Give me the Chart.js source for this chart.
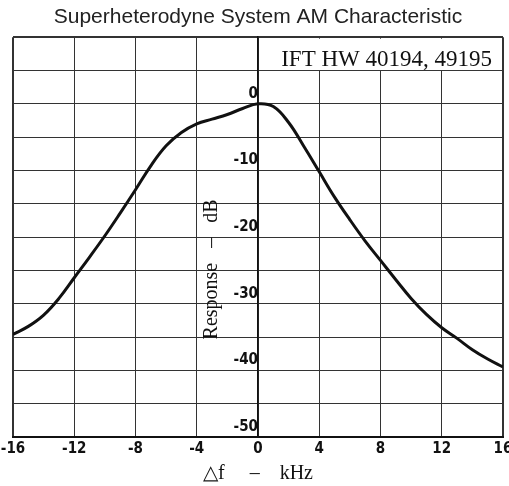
<!DOCTYPE html>
<html>
<head>
<meta charset="utf-8">
<script src="https://cdn.jsdelivr.net/npm/chart.js@4/dist/chart.umd.min.js"></script>
<style>
  html, body { margin: 0; padding: 0; background: #fff; }
  #wrap { width: 509px; height: 486px; }
</style>
</head>
<body>
<div id="wrap"><canvas id="amChart"></canvas></div>
<script>
const chartTitle = 'Superheterodyne System AM Characteristic';
const partNote = 'IFT HW 40194, 49195';

// detuning in kHz and relative response in dB
const kHz = [-16, -15, -14, -13, -12, -11, -10, -9, -8, -7, -6, -5, -4, -3, -2, -1, 0,
             1, 2, 3, 4, 5, 6, 7, 8, 9, 10, 11, 12, 13, 14, 15, 16];
const responseDb = [-34.6, -33.4, -31.7, -29.2, -26.1, -23.0, -19.8, -16.4, -12.9, -9.3, -6.3, -4.3, -3.0, -2.3, -1.6, -0.7, 0,
                    -0.4, -2.8, -6.4, -10.2, -14.0, -17.4, -20.6, -23.5, -26.4, -29.2, -31.6, -33.6, -35.2, -36.9, -38.3, -39.5];

// only these dB lines carry a number
const dbLabels = [0, -10, -20, -30, -40, -50];

const tickFont = { family: "'Liberation Sans Narrow', 'DejaVu Sans Condensed', 'Arial Narrow', sans-serif", size: 15, weight: 'bold', lineHeight: 1 };
const serif = "'Liberation Serif', 'Times New Roman', serif";

const edgeOrGrid = (edges) => (ctx) => edges.includes(ctx.tick.value) ? 2 : 1;

// white label box in the top right cell, plus the rotated dB caption
const notes = {
    id: 'notes',
    beforeDatasetsDraw(chart) {
        const { ctx, scales: { x, y } } = chart;
        const l = x.getPixelForValue(0), r = x.getPixelForValue(16);
        const t = y.getPixelForValue(10), b = y.getPixelForValue(5);
        ctx.save();
        ctx.fillStyle = '#fff';
        ctx.fillRect(l + 1, t + 1.5, r - l - 2.5, b - t - 2);
        ctx.fillStyle = '#111';
        ctx.font = '23px ' + serif;
        ctx.textAlign = 'right';
        ctx.textBaseline = 'alphabetic';
        ctx.fillText(partNote, r - 11, b - 4.5);
        ctx.restore();
    },
    afterDraw(chart) {
        const { ctx, scales: { x, y } } = chart;
        ctx.save();
        ctx.translate(x.getPixelForValue(0) - 46, y.getPixelForValue(-25) - 1);
        ctx.rotate(-Math.PI / 2);
        ctx.fillStyle = '#111';
        ctx.font = '20px ' + serif;
        ctx.textAlign = 'center';
        ctx.textBaseline = 'middle';
        ctx.fillText('Response   \u2013   dB', 0, 0);
        ctx.restore();
    }
};

new Chart(document.getElementById('amChart'), {
    type: 'line',
    data: {
        datasets: [{
            data: kHz.map((f, i) => ({ x: f, y: responseDb[i] })),
            borderColor: '#111',
            borderWidth: 3,
            pointRadius: 0,
            fill: false,
            tension: 0.4
        }]
    },
    options: {
        responsive: true,
        maintainAspectRatio: false,
        animation: false,
        layout: { padding: { left: 13, right: 6, top: 0, bottom: 0 } },
        plugins: {
            legend: { display: false },
            tooltip: { enabled: false },
            title: {
                display: true,
                text: chartTitle,
                color: '#222',
                font: { family: "'Liberation Sans', Arial, sans-serif", size: 21, weight: 'normal' },
                padding: { top: 5, bottom: 7 }
            }
        },
        scales: {
            x: {
                type: 'linear',
                min: -16,
                max: 16,
                afterFit(scale) { scale.paddingLeft = 0; scale.paddingRight = 0; },
                ticks: { stepSize: 4, color: '#111', font: tickFont, padding: 5 },
                grid: { color: '#333', lineWidth: edgeOrGrid([-16, 16]), drawTicks: false },
                border: { display: true, color: '#111', width: 2 },
                title: {
                    display: true,
                    text: '\u25B3f     \u2013    kHz',
                    color: '#111',
                    font: { family: serif, size: 20 },
                    padding: { top: 0, bottom: 0 }
                }
            },
            y: {
                position: { x: 0 },
                min: -50,
                max: 10,
                ticks: {
                    stepSize: 5,
                    color: '#111',
                    font: tickFont,
                    labelOffset: -10,
                    callback: (v) => dbLabels.includes(v) ? String(v) : ''
                },
                grid: { color: '#333', lineWidth: edgeOrGrid([10, -50]), drawTicks: false },
                border: { display: true, color: '#111', width: 1.5 }
            }
        }
    },
    plugins: [notes]
});
</script>
</body>
</html>
